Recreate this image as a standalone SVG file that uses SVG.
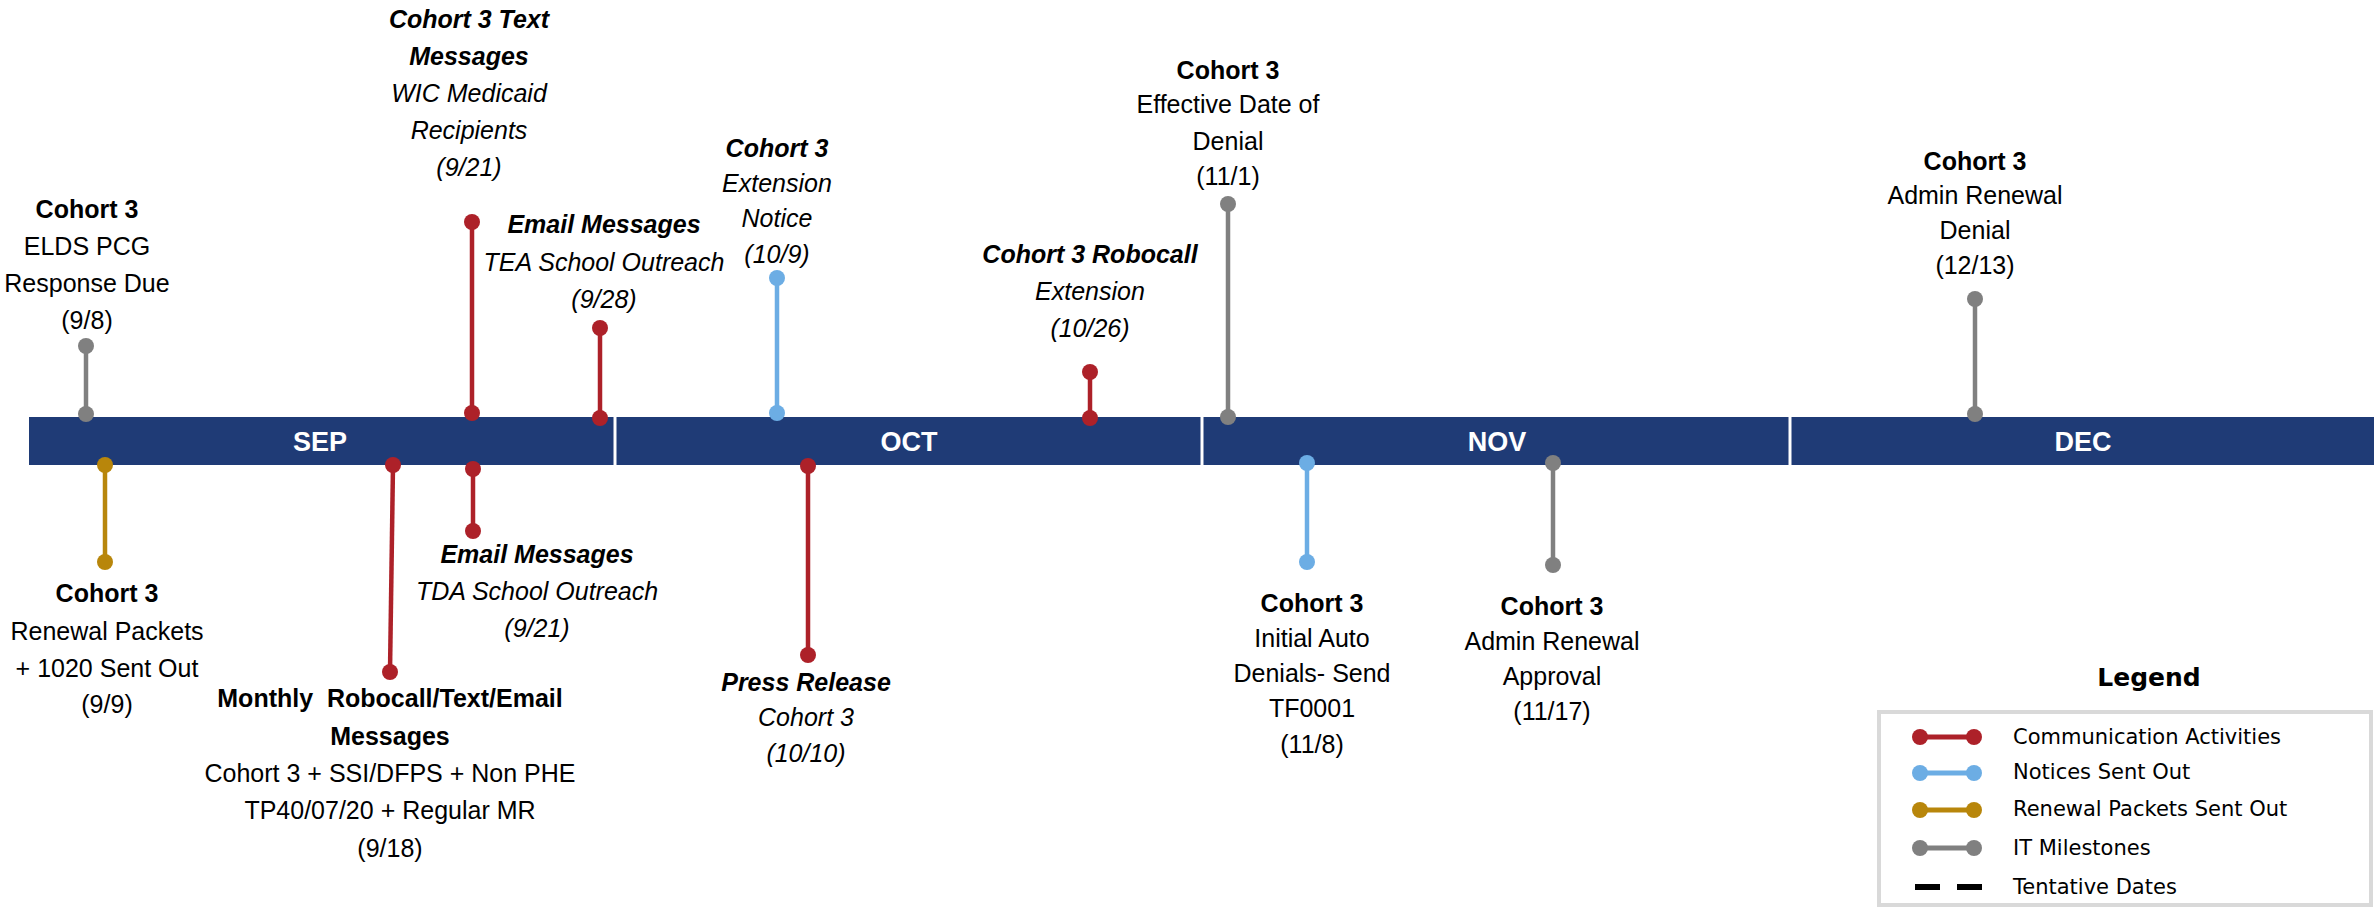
<svg xmlns="http://www.w3.org/2000/svg" width="2374" height="908" viewBox="0 0 2374 908">
<style>
.t{font-family:"Liberation Sans",Arial,sans-serif;font-size:25px;text-anchor:middle;fill:#000}
.b{font-weight:bold}
.i{font-style:italic}
.mo{font-family:"Liberation Sans",Arial,sans-serif;font-size:27px;font-weight:bold;fill:#fff;text-anchor:middle}
.st{stroke-width:4.5;fill:none}
.red{stroke:#AD2129;marker-start:url(#dr);marker-end:url(#dr)}
.blue{stroke:#6CADE4;marker-start:url(#db);marker-end:url(#db)}
.gold{stroke:#B8860B;marker-start:url(#dg);marker-end:url(#dg)}
.gray{stroke:#808080;marker-start:url(#dy);marker-end:url(#dy)}
.lg{font-family:"DejaVu Sans",Verdana,sans-serif;font-size:21px;fill:#000}
.lgl{stroke-width:5}
</style>
<defs>
<marker id="dr" viewBox="-9 -9 18 18" refX="0" refY="0" markerWidth="18" markerHeight="18" markerUnits="userSpaceOnUse"><circle r="8" fill="#AD2129"/></marker>
<marker id="db" viewBox="-9 -9 18 18" refX="0" refY="0" markerWidth="18" markerHeight="18" markerUnits="userSpaceOnUse"><circle r="8" fill="#6CADE4"/></marker>
<marker id="dg" viewBox="-9 -9 18 18" refX="0" refY="0" markerWidth="18" markerHeight="18" markerUnits="userSpaceOnUse"><circle r="8" fill="#B8860B"/></marker>
<marker id="dy" viewBox="-9 -9 18 18" refX="0" refY="0" markerWidth="18" markerHeight="18" markerUnits="userSpaceOnUse"><circle r="8" fill="#808080"/></marker>
</defs>
<rect width="2374" height="908" fill="#fff"/>

<g id="timeline-bar">
<rect x="29" y="417" width="2345" height="48" fill="#1F3B76"/>
<line x1="615" y1="417" x2="615" y2="465" stroke="#fff" stroke-width="3"/>
<line x1="1202" y1="417" x2="1202" y2="465" stroke="#fff" stroke-width="3"/>
<line x1="1790" y1="417" x2="1790" y2="465" stroke="#fff" stroke-width="3"/>
<text class="mo" x="320" y="451">SEP</text>
<text class="mo" x="909" y="451">OCT</text>
<text class="mo" x="1497" y="451">NOV</text>
<text class="mo" x="2083" y="451">DEC</text>
</g>

<g id="connectors">
<line class="st gray" x1="86" y1="346" x2="86" y2="414"/>
<line class="st red" x1="472" y1="222" x2="472" y2="413"/>
<line class="st red" x1="600" y1="328" x2="600" y2="418"/>
<line class="st blue" x1="777" y1="278" x2="777" y2="413"/>
<line class="st red" x1="1090" y1="372" x2="1090" y2="418"/>
<line class="st gray" x1="1228" y1="204" x2="1228" y2="417"/>
<line class="st gray" x1="1975" y1="299" x2="1975" y2="414"/>
<line class="st gold" x1="105" y1="465" x2="105" y2="562"/>
<line class="st red" x1="393" y1="465" x2="390" y2="672"/>
<line class="st red" x1="473" y1="469" x2="473" y2="531"/>
<line class="st red" x1="808" y1="466" x2="808" y2="655"/>
<line class="st blue" x1="1307" y1="463" x2="1307" y2="562"/>
<line class="st gray" x1="1553" y1="463" x2="1553" y2="565"/>
</g>

<g id="n-9-8">
<text class="t b" x="87" y="218">Cohort 3</text>
<text class="t" x="87" y="255">ELDS PCG</text>
<text class="t" x="87" y="292">Response Due</text>
<text class="t" x="87" y="329">(9/8)</text>
</g>
<g id="n-9-21-text">
<text class="t b i" x="469" y="28">Cohort 3 Text</text>
<text class="t b i" x="469" y="65">Messages</text>
<text class="t i" x="469" y="102">WIC Medicaid</text>
<text class="t i" x="469" y="139">Recipients</text>
<text class="t i" x="469" y="176">(9/21)</text>
</g>
<g id="n-9-28">
<text class="t b i" x="604" y="233">Email Messages</text>
<text class="t i" x="604" y="271">TEA School Outreach</text>
<text class="t i" x="604" y="308">(9/28)</text>
</g>
<g id="n-10-9">
<text class="t b i" x="777" y="157">Cohort 3</text>
<text class="t i" x="777" y="192">Extension</text>
<text class="t i" x="777" y="227">Notice</text>
<text class="t i" x="777" y="263">(10/9)</text>
</g>
<g id="n-10-26">
<text class="t b i" x="1090" y="263">Cohort 3 Robocall</text>
<text class="t i" x="1090" y="300">Extension</text>
<text class="t i" x="1090" y="337">(10/26)</text>
</g>
<g id="n-11-1">
<text class="t b" x="1228" y="79">Cohort 3</text>
<text class="t" x="1228" y="113">Effective Date of</text>
<text class="t" x="1228" y="150">Denial</text>
<text class="t" x="1228" y="185">(11/1)</text>
</g>
<g id="n-12-13">
<text class="t b" x="1975" y="170">Cohort 3</text>
<text class="t" x="1975" y="204">Admin Renewal</text>
<text class="t" x="1975" y="239">Denial</text>
<text class="t" x="1975" y="274">(12/13)</text>
</g>
<g id="n-9-9">
<text class="t b" x="107" y="602">Cohort 3</text>
<text class="t" x="107" y="640">Renewal Packets</text>
<text class="t" x="107" y="677">+ 1020 Sent Out</text>
<text class="t" x="107" y="713">(9/9)</text>
</g>
<g id="n-9-18">
<text class="t b" x="390" y="707">Monthly&#160; Robocall/Text/Email</text>
<text class="t b" x="390" y="745">Messages</text>
<text class="t" x="390" y="782">Cohort 3 + SSI/DFPS + Non PHE</text>
<text class="t" x="390" y="819">TP40/07/20 + Regular MR</text>
<text class="t" x="390" y="857">(9/18)</text>
</g>
<g id="n-9-21-email">
<text class="t b i" x="537" y="563">Email Messages</text>
<text class="t i" x="537" y="600">TDA School Outreach</text>
<text class="t i" x="537" y="637">(9/21)</text>
</g>
<g id="n-10-10">
<text class="t b i" x="806" y="691">Press Release</text>
<text class="t i" x="806" y="726">Cohort 3</text>
<text class="t i" x="806" y="762">(10/10)</text>
</g>
<g id="n-11-8">
<text class="t b" x="1312" y="612">Cohort 3</text>
<text class="t" x="1312" y="647">Initial Auto</text>
<text class="t" x="1312" y="682">Denials- Send</text>
<text class="t" x="1312" y="717">TF0001</text>
<text class="t" x="1312" y="753">(11/8)</text>
</g>
<g id="n-11-17">
<text class="t b" x="1552" y="615">Cohort 3</text>
<text class="t" x="1552" y="650">Admin Renewal</text>
<text class="t" x="1552" y="685">Approval</text>
<text class="t" x="1552" y="720">(11/17)</text>
</g>

<g id="legend">
<text x="2149" y="686" font-family="'DejaVu Sans',Verdana,sans-serif" font-size="25" font-weight="bold" text-anchor="middle">Legend</text>
<rect x="1879" y="712" width="492" height="193" fill="#fff" stroke="#D9D9D9" stroke-width="4"/>
<line class="lgl red" x1="1920" y1="737" x2="1974" y2="737"/>
<line class="lgl blue" x1="1920" y1="773" x2="1974" y2="773"/>
<line class="lgl gold" x1="1920" y1="810" x2="1974" y2="810"/>
<line class="lgl gray" x1="1920" y1="848" x2="1974" y2="848"/>
<line x1="1915" y1="887" x2="1982" y2="887" stroke="#000" stroke-width="6" stroke-dasharray="25 17"/>
<text class="lg" x="2013" y="744">Communication Activities</text>
<text class="lg" x="2013" y="779">Notices Sent Out</text>
<text class="lg" x="2013" y="816">Renewal Packets Sent Out</text>
<text class="lg" x="2013" y="855">IT Milestones</text>
<text class="lg" x="2013" y="894">Tentative Dates</text>
</g>
</svg>
